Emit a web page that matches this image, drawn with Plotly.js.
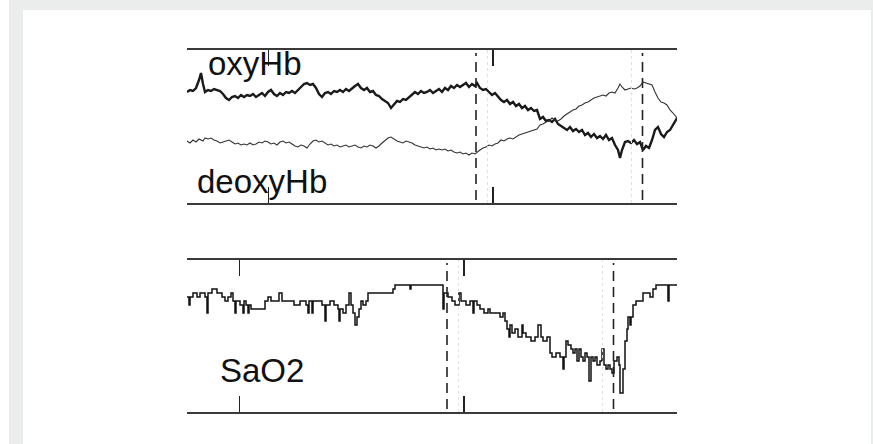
<!DOCTYPE html>
<html>
<head>
<meta charset="utf-8">
<script src="https://cdn.plot.ly/plotly-3.0.1.min.js"></script>
<style>
  html, body { margin: 0; padding: 0; background: #ebecec; }
  #chart { width: 873px; height: 444px; }
</style>
</head>
<body>
<div id="chart"></div>
<script>
// Time base (s) shared by the two haemoglobin traces
const hbTime = [0,3,6,9,12,14,16,18,
  21,24,27,30,33,36,39,42,45,48,
  51,54,57,60,63,66,69,72,75,78,
  81,84,87,90,93,96,99,102,105,108,
  111,114,117,120,123,126,129,132,135,138,
  141,144,147,150,153,156,159,162,165,168,
  171,174,177,180,183,186,189,192,195,198,
  201,204,207,210,213,216,219,222,225,228,
  231,234,237,240,243,246,249,252,255,258,
  261,264,267,270,273,276,279,282,285,288,
  290,
  293,296,299,302,305,308,311,314,317,320,
  323,326,329,332,335,338,341,344,347,350,
  353,356,359,362,365,368,371,374,377,380,
  383,386,389,392,395,398,401,404,407,410,
  413,416,419,422,425,428,431,
  433,435,
  438,441,444,447,450,453,456,459,462,465,468,471,474,477,480,483,486,
  490];

// Oxygenated haemoglobin change (a.u.)
const oxyHb = [36,38,37,40,48,55,44,36,
  38,37,39,38,37,34,30,28,31,32,
  30,33,31,33,32,34,31,33,35,32,
  36,38,34,32,35,33,36,35,37,35,
  38,42,44,45,43,44,40,34,31,35,
  36,34,37,36,38,36,39,37,40,42,
  44,40,38,40,36,37,33,32,29,27,
  25,20,24,27,26,29,28,31,33,36,
  34,37,35,36,38,35,37,39,36,40,
  38,42,40,43,41,43,45,41,44,42,
  45,
  40,38,39,36,33,35,31,28,26,28,
  24,26,22,24,20,22,18,20,17,18,
  9,11,7,8,6,9,4,2,0,-2,
  1,-3,-1,-4,-2,-7,-5,-9,-6,-10,
  -8,-11,-7,-12,-10,-17,-22,
  -30,-22,
  -14,-13,-15,-12,-16,-14,-22,-18,-20,-12,-2,1,-6,-9,-4,-2,3,
  10];

// Deoxygenated haemoglobin change (a.u.)
const deoxyHb = [-13,-15,-12,-14,-11,-12,-13,-10,
  -11,-10,-12,-13,-15,-14,-13,-12,-14,-16,
  -15,-17,-16,-17,-15,-17,-16,-14,-15,-13,
  -14,-16,-15,-17,-14,-13,-15,-14,-16,-18,
  -19,-17,-18,-20,-16,-13,-12,-14,-13,-15,
  -17,-16,-18,-17,-19,-18,-17,-19,-18,-17,
  -19,-20,-18,-19,-17,-18,-20,-18,-15,-12,
  -10,-9,-11,-13,-14,-15,-13,-14,-15,-17,
  -18,-19,-20,-19,-21,-20,-22,-21,-22,-21,
  -23,-22,-24,-25,-24,-26,-25,-27,-25,-26,
  -24,
  -22,-20,-19,-17,-18,-16,-15,-12,-13,-11,
  -10,-11,-9,-7,-6,-5,-4,-3,-2,-1,
  3,4,6,7,10,8,7,9,12,14,
  16,18,19,22,23,25,26,28,30,31,
  32,33,32,35,36,35,40,
  44,41,
  38,39,40,39,40,42,46,45,44,43,36,30,26,25,23,18,15,
  10];

// Arterial oxygen saturation (%), sampled on its own time base (s)
const saTime = [29,31,32,35,39,42,47,49,50,54,59,64,67,70,73,75,77,78,82,85,
  86,88,90,91,93,97,101,105,107,110,113,117,121,124,130,136,142,148,150,151,
  154,155,160,164,167,168,172,176,180,181,182,185,188,191,193,195,197,199,201,203,
  205,208,210,215,220,230,235,237,252,253,272,285,286,290,294,297,301,303,308,312,
  315,316,319,322,326,330,332,337,342,345,347,349,351,352,354,357,360,364,365,368,
  373,377,380,383,385,389,392,394,398,402,405,406,408,410,413,415,417,419,421,423,
  425,427,429,431,433,435,437,439,442,444,446,448,450,452,454,456,459,461,462,464,
  465,467,469,470,472,473,475,478,485,492,495,498,510,511,519];
const sao2 = [95,93,95,96,95,96,95,91,96,97,96,95,94,95,96,94,91,94,93,91,
  94,93,91,93,92,92,92,92,94,95,94,94,96,94,94,93,94,93,91,94,
  91,94,94,93,89,93,94,93,92,89,92,91,93,96,93,91,88,90,92,94,
  93,94,96,96,96,96,97,98,97,98,98,92,96,95,94,93,96,94,93,94,
  91,94,93,92,91,92,91,91,90,91,89,87,85,88,86,87,85,88,86,85,
  84,85,88,85,84,85,81,80,81,80,77,80,84,83,82,81,82,79,82,80,
  79,81,80,74,80,79,80,78,79,82,78,77,78,77,76,79,80,78,71,71,
  77,84,87,90,88,90,93,94,96,95,97,98,94,98,98];

// Marked events (s): tick marks, dashed boundaries, faint guides
const tickTimes = [81.5, 306];
const eventTimes = [289, 455.5];
const guideTimes = [300.5, 444.5];

const W = 873, H = 444;
const px = v => v / W;          // horizontal pixel -> paper fraction
const py = v => 1 - v / H;      // vertical pixel -> paper fraction

const xDomain = [px(187), px(677)];

const traces = [
  { x: hbTime, y: oxyHb, xaxis: 'x', yaxis: 'y', mode: 'lines', name: 'oxyHb',
    line: { color: '#1a1a1a', width: 2.4 } },
  { x: hbTime, y: deoxyHb, xaxis: 'x', yaxis: 'y', mode: 'lines', name: 'deoxyHb',
    line: { color: '#333333', width: 1.1 } },
  { x: saTime, y: sao2, xaxis: 'x2', yaxis: 'y2', mode: 'lines', name: 'SaO2',
    line: { color: '#111111', width: 1.5, shape: 'hv' } }
];

function frameAxis(range, anchor) {
  return {
    domain: xDomain, range: range, anchor: anchor,
    showgrid: false, zeroline: false, showticklabels: false,
    showline: true, mirror: 'ticks', linecolor: '#3a3a3a', linewidth: 2,
    ticks: 'inside', ticklen: 16, tickwidth: 1.5, tickcolor: '#222',
    tickmode: 'array', tickvals: tickTimes
  };
}
function valueAxis(domain, range, anchor) {
  return {
    domain: domain, range: range, anchor: anchor,
    showgrid: false, zeroline: false, showticklabels: false,
    showline: false, ticks: ''
  };
}

const shapes = [
  // white sheet behind the figure
  { type: 'rect', xref: 'paper', yref: 'paper', x0: px(23), x1: px(871), y0: 0, y1: py(10),
    fillcolor: '#ffffff', line: { width: 0 }, layer: 'below' },
  { type: 'rect', xref: 'paper', yref: 'paper', x0: 0, x1: px(9), y0: 0, y1: 1,
    fillcolor: '#ffffff', line: { width: 0 }, layer: 'below' }
];
[['x', 'y domain'], ['x2', 'y2 domain']].forEach(([xr, yr]) => {
  eventTimes.forEach(t => shapes.push({
    type: 'line', xref: xr, yref: yr, x0: t, x1: t, y0: 0.02, y1: 0.98,
    line: { color: '#222', width: 1.6, dash: '10px,6px' }
  }));
  guideTimes.forEach(t => shapes.push({
    type: 'line', xref: xr, yref: yr, x0: t, x1: t, y0: 0, y1: 1,
    line: { color: '#e2e2e2', width: 1, dash: 'dot' }
  }));
});

const labelFont = { family: 'Liberation Sans, Arial, sans-serif', size: 33, color: '#111' };
const annotations = [
  { text: 'oxyHb', x: px(207), y: py(63.6) },
  { text: 'deoxyHb', x: px(196), y: py(181.6) },
  { text: 'SaO2', x: px(219), y: py(370.6) }
].map(a => Object.assign(a, {
  xref: 'paper', yref: 'paper', xanchor: 'left', yanchor: 'middle',
  showarrow: false, borderpad: 0, font: labelFont
}));

const layout = {
  width: W, height: H,
  margin: { l: 0, r: 0, t: 0, b: 0, pad: 0 },
  paper_bgcolor: '#ebecec',
  plot_bgcolor: 'rgba(0,0,0,0)',
  showlegend: false,
  xaxis: frameAxis([0, 490], 'y'),
  yaxis: valueAxis([py(203), py(50)], [-75, 78], 'x'),
  xaxis2: frameAxis([29, 519], 'y2'),
  yaxis2: valueAxis([py(412), py(260)], [66.25, 104.25], 'x2'),
  shapes: shapes,
  annotations: annotations
};

Plotly.newPlot('chart', traces, layout, { displayModeBar: false, staticPlot: true });
</script>
</body>
</html>
